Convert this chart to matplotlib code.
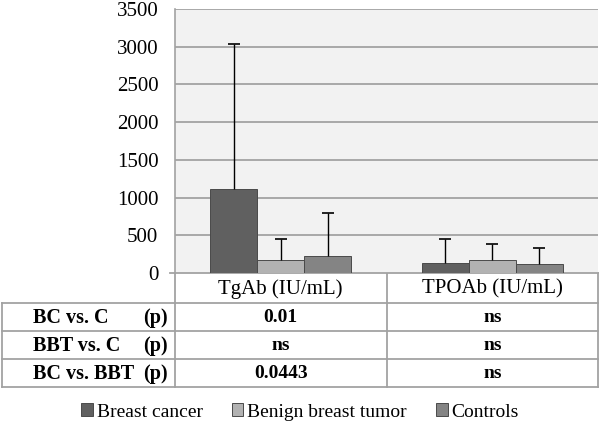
import numpy as np
import matplotlib
matplotlib.use("Agg")
from matplotlib import pyplot as plt

# data
categories = ["TgAb (IU/mL)", "TPOAb (IU/mL)"]
groups = ["Breast cancer", "Benign breast tumor", "Controls"]
means = [[1115, 172, 225],   # TgAb
         [137, 176, 123]]    # TPOAb
sds = [[1915, 275, 575],
       [310, 212, 204]]
comparisons = ["BC vs. C", "BBT vs. C", "BC vs. BBT"]
p_tgab = ["0.01", "ns", "0.0443"]
p_tpoab = ["ns", "ns", "ns"]

colors = ["#606060", "#b2b2b2", "#848484"]
line_col = "#a2a2a2"
serif = "Liberation Serif"
plt.rcParams["font.family"] = serif
fs = 14

W, H = 600, 423
fig = plt.figure(figsize=(W / 100, H / 100), dpi=100)

# pixel-space axes for the table under the chart
tab = fig.add_axes([0, 0, 1, 1])
tab.set_xlim(0, W)
tab.set_ylim(H, 0)
tab.axis("off")

x_left, x_right = 175, 598
y_zero, y_top = 273, 9
ax = fig.add_axes([x_left / W, 1 - y_zero / H, (x_right - x_left) / W, (y_zero - y_top) / H])
ax.set_facecolor("#f2f2f2")

means = np.array(means)
sds = np.array(sds)
x = np.arange(len(categories))
bw = 0.222
for j, g in enumerate(groups):
    bars = ax.bar(x + (j - 1) * bw, means[:, j], bw, color=colors[j], edgecolor="#4a4a4a",
                  linewidth=0.7, label=g, zorder=3,
                  yerr=[np.zeros(len(x)), sds[:, j]],
                  error_kw=dict(ecolor="black", elinewidth=1, capsize=4, capthick=1.2, zorder=4))
    # only the upper cap is drawn in the original
    for cap in bars.errorbar.lines[1]:
        if np.allclose(cap.get_ydata(), means[:, j]):
            cap.set_visible(False)

ax.set_xlim(-0.5, len(categories) - 0.5)
ax.set_ylim(0, 3500)
ax.set_yticks(np.arange(0, 3501, 500))
ax.set_xticks([])
ax.tick_params(axis="y", length=0, labelsize=15, pad=12)
for lab in ax.get_yticklabels():
    lab.set_fontfamily(serif)
ax.yaxis.grid(True, color="#9c9c9c", linewidth=1.2, zorder=0)
ax.set_axisbelow(True)
for s in ["top", "right", "bottom"]:
    ax.spines[s].set_visible(False)
ax.spines["left"].set_color(line_col)
ax.spines["left"].set_linewidth(1.2)

# table grid
cat_w = (x_right - x_left) / len(categories)
head_bot = 303
row_h = 28
n = len(comparisons)
tab_bot = head_bot + n * row_h
lw = 1.3
tab.plot([170, x_right], [y_zero, y_zero], color=line_col, lw=lw)
for k in range(n + 1):
    yy = head_bot + k * row_h
    tab.plot([2, x_right], [yy, yy], color=line_col, lw=lw)
for i in range(len(categories) + 1):
    xx = x_left + i * cat_w
    tab.plot([xx, xx], [y_zero, tab_bot], color=line_col, lw=lw)
tab.plot([2, 2], [head_bot, tab_bot], color=line_col, lw=lw)

for i, c in enumerate(categories):
    tab.text(x_left + (i + 0.5) * cat_w, (y_zero + head_bot) / 2 + 1, c,
             ha="center", va="center", fontsize=15)

for k, (lab, a, b) in enumerate(zip(comparisons, p_tgab, p_tpoab)):
    yc = head_bot + (k + 0.5) * row_h + 1
    tab.text(33, yc, lab, ha="left", va="center", fontsize=14.5, fontweight="bold")
    tab.text(168, yc, "(p)", ha="right", va="center", fontsize=14.5, fontweight="bold")
    for i, v in enumerate([a, b]):
        tab.text(x_left + (i + 0.5) * cat_w, yc, v, ha="center", va="center",
                 fontsize=fs, fontweight="bold")

handles, labels = ax.get_legend_handles_labels()
fig.legend(handles, labels, loc="center", bbox_to_anchor=(300 / W, 1 - 412 / H), ncol=3,
           frameon=False, prop=dict(family=serif, size=fs), handlelength=0.6,
           handleheight=0.6, handletextpad=0.2, columnspacing=1.5)

fig.savefig("out.png", dpi=100)
